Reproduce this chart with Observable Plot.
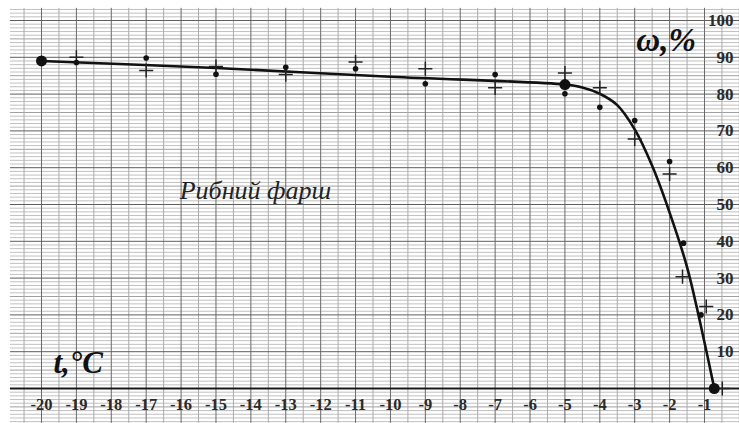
<!DOCTYPE html>
<html>
<head>
<meta charset="utf-8">
<script src="https://cdn.jsdelivr.net/npm/d3@7"></script>
<script src="https://cdn.jsdelivr.net/npm/@observablehq/plot@0.6"></script>
<style>
  html, body { margin: 0; padding: 0; background: #fff; }
  #chart svg { display: block; }
</style>
</head>
<body>
<div id="chart"></div>
<script>
// Tick labels
const xTicks = [-20, -19, -18, -17, -16, -15, -14, -13, -12, -11, -10, -9, -8, -7, -6, -5, -4, -3, -2, -1];
const yTicks = [10, 20, 30, 40, 50, 60, 70, 80, 90, 100];

// Experimental points: filled dots
const dotT = [-19, -17, -15, -13, -11, -9, -7, -5, -4, -3, -2, -1.6, -1.1];
const dotW = [88.6, 89.8, 85.4, 87.3, 86.9, 82.8, 85.3, 80.1, 76.4, 72.8, 61.7, 39.5, 20.0];

// Experimental points: plus markers
const plusT = [-19, -17, -15, -13, -11, -9, -7, -5, -4, -3, -2, -1.63, -0.95, -0.49];
const plusW = [90.0, 86.4, 87.5, 85.3, 88.7, 86.9, 81.7, 85.7, 81.7, 67.8, 58.3, 30.4, 22.3, 0];

// Key points (large dots)
const keyT = [-20, -5, -0.72];
const keyW = [89, 82.6, 0];

// Fitted curve
const curveT = [-20, -15, -10, -5, -4.5, -4, -3.5, -3, -2.5, -2, -1.5, -1, -0.72];
const curveW = [89, 87.1, 84.7, 82.6, 81.8, 80.1, 77.0, 70.4, 60.5, 47.8, 33.0, 12.5, 0];

// Labels
const yAxisLabel = "ω,%";
const xAxisLabel = "t,°C";
const seriesLabel = "Рибний фарш";

const dots = dotT.map((t, i) => ({t, w: dotW[i]}));
const pluses = plusT.map((t, i) => ({t, w: plusW[i]}));
const keys = keyT.map((t, i) => ({t, w: keyW[i]}));
const curve = curveT.map((t, i) => ({t, w: curveW[i]}));

// graph-paper grid
const gx0 = -20.89, gx1 = 0.01, gy0 = -10, gy1 = 103.3;
const vMinor = d3.range(-20.5, 0.01, 1);
const vMajor = d3.range(-20, 0.01, 1);
const hAll = d3.range(-9, 104, 1);
const hMinor = hAll.filter(v => v % 5 !== 0);
const hMid = hAll.filter(v => v % 5 === 0 && v % 10 !== 0);
const hMajor = hAll.filter(v => v % 10 === 0 && v !== 0);

const serif = "'Liberation Serif', 'DejaVu Serif', serif";

const chart = Plot.plot({
  width: 739,
  height: 423,
  x: {domain: [-20, -1], range: [41, 704], axis: null},
  y: {domain: [0, 100], range: [388, 20], axis: null},
  style: {background: "#fff"},
  marks: [
    Plot.ruleY(hMinor, {y: d => d, x1: gx0, x2: gx1, stroke: "#c0c0c0", strokeWidth: 1}),
    Plot.ruleY(hMid, {y: d => d, x1: gx0, x2: gx1, stroke: "#a0a0a0", strokeWidth: 1}),
    Plot.ruleX(vMinor, {x: d => d, y1: gy0, y2: gy1, stroke: "#ababab", strokeWidth: 1}),
    Plot.ruleX(vMajor, {x: d => d, y1: gy0, y2: gy1, stroke: "#6a6a6a", strokeWidth: 1}),
    Plot.ruleY(hMajor, {y: d => d, x1: gx0, x2: gx1, stroke: "#5e5e5e", strokeWidth: 1}),
    Plot.ruleY([0], {x1: gx0, x2: gx1, stroke: "#1a1a1a", strokeWidth: 1.8}),
    // tick labels
    Plot.text(xTicks, {x: d => d, y: 0, dy: 16, text: d => String(d), fill: "#2a2a2a",
      fontFamily: serif, fontWeight: "bold", fontSize: 16.5}),
    Plot.text(yTicks, {x: -1, y: d => d, dx: 29, text: d => String(d), textAnchor: "end", fill: "#2a2a2a",
      fontFamily: serif, fontWeight: "bold", fontSize: 17}),
    // curve and points
    Plot.line(curve, {x: "t", y: "w", curve: "catmull-rom", stroke: "#111", strokeWidth: 2.6}),
    Plot.dot(pluses, {x: "t", y: "w", symbol: "plus", r: 4.6, stroke: "#222", strokeWidth: 1.5}),
    Plot.dot(dots, {x: "t", y: "w", r: 2.8, fill: "#111", stroke: "none"}),
    Plot.dot(keys, {x: "t", y: "w", r: 5.5, fill: "#111", stroke: "none"}),
    // annotations
    Plot.text([yAxisLabel], {x: -2.1, y: 94.6, text: d => d, fill: "#111",
      fontFamily: serif, fontWeight: "bold", fontStyle: "italic", fontSize: 33}),
    Plot.text([xAxisLabel], {x: -18.95, y: 7, text: d => d, fill: "#111",
      fontFamily: serif, fontWeight: "bold", fontStyle: "italic", fontSize: 31}),
    Plot.text([seriesLabel], {x: -13.87, y: 53.8, text: d => d, fill: "#222",
      fontFamily: serif, fontStyle: "italic", fontSize: 26})
  ]
});
document.getElementById("chart").appendChild(chart);
</script>
</body>
</html>
